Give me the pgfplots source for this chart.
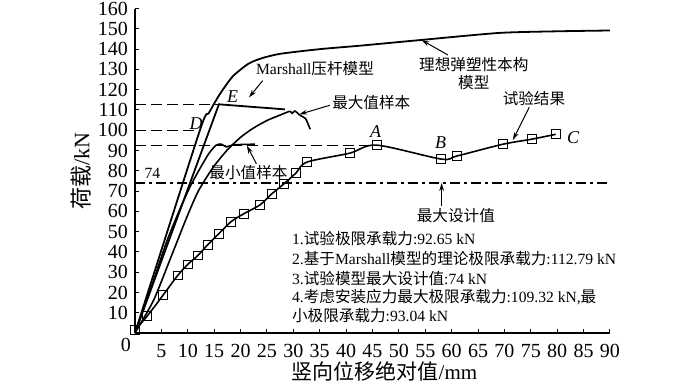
\documentclass[border=0pt]{standalone}
\usepackage{fontspec}
\setmainfont{Liberation Serif}
\newfontfamily\cjk{Noto Sans CJK SC}
\usepackage{pgfplots}
\pgfplotsset{compat=1.18}
\usetikzlibrary{arrows.meta}
\newcommand{\lab}{\fontsize{7.8}{9}\selectfont}
\begin{document}
\begin{tikzpicture}
\begin{axis}[
  scale only axis, width=237.5pt, height=162.2pt,
  xmin=0, xmax=90, ymin=0, ymax=160,
  axis x line=bottom, axis y line=left,
  axis line style={-, line width=0.6pt},
  xtick={5,10,...,90}, ytick={10,20,...,160},
  tick style={black, line width=0.5pt}, major tick length=2pt,
  tick align=inside,
  ticklabel style={font=\fontsize{10}{12}\selectfont},
  xticklabel style={inner sep=1pt, yshift=-4.3pt},
  /pgf/number format/assume math mode=true,
  xlabel={{\cjk 竖向位移绝对值}/mm},
  ylabel={{\cjk 荷载}/kN},
  xlabel style={font=\fontsize{10.5}{12}\selectfont, inner sep=0pt, at={(axis description cs:0.5,0)}, anchor=center, yshift=-19pt, xshift=6pt},
  ylabel style={font=\fontsize{11}{13}\selectfont, at={(axis description cs:0,0.5)}, anchor=center, yshift=27pt},
  clip=false,
  every axis plot/.append style={black},
]
\coordinate (bbsw) at (rel axis cs:-0.2842,-0.1603);
\coordinate (bbne) at (rel axis cs:1.1895,1.0265);
\node[font=\fontsize{10}{12}\selectfont] at (rel axis cs:0,0) [xshift=-4.5pt, yshift=-6pt] {0};

% reference lines
\addplot[line width=0.5pt, dash pattern=on 5.5pt off 2.5pt] coordinates {(0,112.79) (15.9,112.79)};
\addplot[line width=0.5pt, dash pattern=on 5.5pt off 2.5pt] coordinates {(0,100) (12.3,100)};
\addplot[line width=0.5pt, dash pattern=on 5.5pt off 2.5pt] coordinates {(0,92.65) (45.8,92.65)};
\addplot[line width=0.6pt, dash pattern=on 5pt off 2pt on 1.5pt off 2pt] coordinates {(0,74) (90,74)};

% ideal elastoplastic model
\addplot[line width=0.9pt, smooth, tension=0.4] coordinates {
(0,0) (12.3,100) (14,108.5) (16,117.5) (18.5,126.5) (21.5,132.8) (24,135.5) (27.5,137.7) (35,140) (42.6,141.7) (54.5,144.6) (69,148) (80,148.8) (90,149.2)};
% Marshall strut model
\addplot[line width=0.9pt] coordinates {(0,0) (15.9,112.79) (28.4,110.3)};
% min sample
\addplot[line width=0.8pt, smooth, tension=0.4] coordinates {
(0,0) (3,22) (6,45) (8.5,61) (10.5,72.5) (12.5,82) (14,88.5) (15.3,92.5) (16.3,93.2) (17.3,91.8) (18.5,92.7) (20.5,93.0) (22.7,93.1)};
% max sample
\addplot[line width=0.8pt, smooth, tension=0.4] coordinates {
(0,0) (3.5,16) (6.6,36) (9.8,57) (12,70) (14.8,81.7) (17.4,90) (20,96.5) (22.4,101) (25,104.8) (27.5,107.5) (29.3,109.3) (29.8,108.4) (30.3,109.5) (31.3,107.3) (32.3,105.8) (33.2,100.5)};
% test results
\addplot[line width=0.8pt, smooth, tension=0.5, mark=square, mark size=2.2pt, mark options={solid, fill=white, line width=0.5pt}] coordinates {
(0,1.5) (2.3,8.3) (5.3,18.6) (8.1,28.4) (10.0,33.8) (11.9,38.2) (13.8,43.6) (15.9,49.0) (18.2,54.9) (20.6,58.8) (23.7,63.2) (25.9,68.6) (28.2,73.5) (30.5,78.9) (32.6,84.3) (40.7,88.7) (45.8,92.65) (58.0,85.8) (61.0,87.3) (69.7,93.1) (75.2,95.6) (79.7,98.0)};

% labels
\node[font=\lab] at (axis cs:3.3,78.9) {74};
\node[font=\fontsize{9}{10}\selectfont\itshape] at (axis cs:11.6,103.3) {D};
\node[font=\fontsize{9}{10}\selectfont\itshape] at (axis cs:18.5,116.6) {E};
\node[font=\fontsize{9}{10}\selectfont\itshape] at (axis cs:45.6,99.5) {A};
\node[font=\fontsize{9}{10}\selectfont\itshape] at (axis cs:57.9,93.9) {B};
\node[font=\fontsize{9}{10}\selectfont\itshape] at (axis cs:83.0,96.4) {C};

\node[font=\lab] at (axis cs:34.1,130.4) {Marshall{\cjk 压杆模型}};
\node[font=\lab, anchor=west, inner sep=0pt] at (axis cs:37.3,113.7) {\cjk 最大值样本};
\node[font=\lab, align=center] at (axis cs:64.2,128.0) {\cjk 理想弹塑性本构\\\cjk 模型};
\node[font=\lab] at (axis cs:75.6,115.8) {\cjk 试验结果};
\node[font=\lab] at (axis cs:60.8,57.8) {\cjk 最大设计值};
\node[font=\lab] at (axis cs:21.5,79.1) {\cjk 最小值样本};

\draw[-{Stealth[length=4pt,width=2.4pt]}, line width=0.5pt] (axis cs:24.2,124.5) -- (axis cs:21.6,116.2);
\draw[-{Stealth[length=4pt,width=2.4pt]}, line width=0.5pt] (axis cs:36.9,112.3) -- (axis cs:31.1,107.8);
\draw[-{Stealth[length=4pt,width=2.4pt]}, line width=0.5pt] (axis cs:59.3,137.1) -- (axis cs:54.3,144.5);
\draw[-{Stealth[length=4pt,width=2.4pt]}, line width=0.5pt] (axis cs:74.7,111.3) -- (axis cs:71.6,95.2);
\draw[-{Stealth[length=4pt,width=2.4pt]}, line width=0.5pt] (axis cs:58.1,62.5) -- (axis cs:58.1,74);
\draw[-{Stealth[length=4pt,width=2.4pt]}, line width=0.5pt] (axis cs:23,83.5) -- (axis cs:21.2,92.4);

% notes
\node[font=\lab, anchor=west, inner sep=0pt] at (axis cs:29.7,46.4) {1.{\cjk 试验极限承载力}:92.65 kN};
\node[font=\lab, anchor=west, inner sep=0pt] at (axis cs:29.7,36.6) {2.{\cjk 基于}Marshall{\cjk 模型的理论极限承载力}:112.79 kN};
\node[font=\lab, anchor=west, inner sep=0pt] at (axis cs:29.7,27.1) {3.{\cjk 试验模型最大设计值}:74 kN};
\node[font=\lab, anchor=west, inner sep=0pt] at (axis cs:29.7,17.8) {4.{\cjk 考虑安装应力最大极限承载力}:109.32 kN,{\cjk 最}};
\node[font=\lab, anchor=west, inner sep=0pt] at (axis cs:29.7,8.8) {{\cjk 小极限承载力}:93.04 kN};
\end{axis}
\pgfresetboundingbox
\path[use as bounding box] (bbsw) rectangle (bbne);
\end{tikzpicture}
\end{document}
